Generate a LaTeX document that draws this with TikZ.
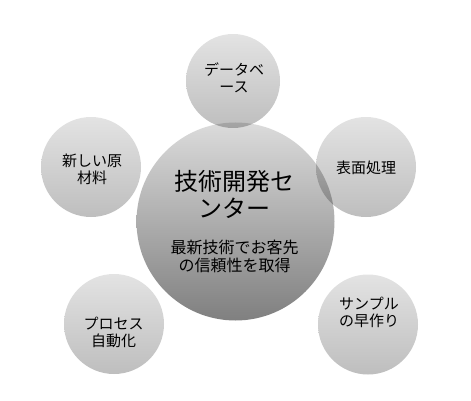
\documentclass[tikz,border=0pt]{standalone}
\usepackage{fontspec}
\newfontfamily\jp{Noto Sans CJK JP}
\begin{document}
\begin{tikzpicture}[x=1pt,y=-1pt,
  smallcirc/.style={circle,inner sep=0pt,minimum size=100pt,blend mode=multiply},
  bigcirc/.style={circle,inner sep=0pt,minimum size=198pt,blend mode=multiply},
  smalltxt/.style={align=center,inner sep=0pt,font=\jp\fontsize{15}{17}\selectfont},
  titletxt/.style={align=center,inner sep=0pt,font=\jp\fontsize{24}{27}\selectfont},
  subtxt/.style={align=center,inner sep=0pt,font=\jp\fontsize{16}{18.5}\selectfont}]
\useasboundingbox (0,0) rectangle (471,401);
\definecolor{smtop}{gray}{0.89}
\definecolor{smbot}{gray}{0.745}
\definecolor{bgtop}{gray}{0.86}
\definecolor{bgbot}{gray}{0.50}
\tikzset{smallcirc/.append style={top color=smtop,bottom color=smbot},
  bigcirc/.append style={top color=bgtop,bottom color=bgbot}}
\node[bigcirc] (c) at (235.5,221.5) {};
\node[smallcirc,minimum size=94pt] (t) at (233,81) {};
\node[smallcirc] (l) at (91,167) {};
\node[smallcirc] (r) at (366,167) {};
\node[smallcirc] (bl) at (114,324) {};
\node[smallcirc] (br) at (368,324.5) {};
\node[titletxt] (ct) at (234.5,194) {技術開発セ\\ンター};
\node[subtxt] (cs) at (234.5,256.5) {最新技術でお客先\\の信頼性を取得};
\node[smalltxt] (tt) at (234,78) {データベ\\ース};
\node[smalltxt] (lt) at (92,169) {新しい原\\材料};
\node[smalltxt] (rt) at (366,167.5) {表面処理};
\node[smalltxt] (blt) at (113.5,332) {プロセス\\自動化};
\node[smalltxt] (brt) at (369,312) {サンプル\\の早作り};
\end{tikzpicture}
\end{document}
